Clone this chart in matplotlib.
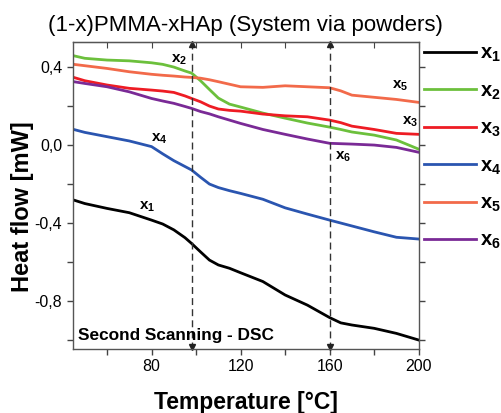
import numpy as np
import matplotlib.pyplot as plt

plt.rcParams['font.family'] = ['Liberation Sans', 'DejaVu Sans']
plt.rcParams['mathtext.fontset'] = 'custom'
plt.rcParams['mathtext.rm'] = 'Liberation Sans'
plt.rcParams['mathtext.bf'] = 'Liberation Sans:bold'

# Temperature grid (C)
temp = [45, 50, 60, 70, 80, 85, 90, 95, 98, 102, 106, 110, 115, 120,
        130, 140, 150, 160, 165, 170, 180, 190, 200]

# Heat flow (mW) for each composition
x1 = [-0.282, -0.300, -0.325, -0.347, -0.385, -0.405, -0.435, -0.475, -0.505, -0.548, -0.590, -0.615,
      -0.632, -0.655, -0.700, -0.769, -0.821, -0.885, -0.912, -0.923, -0.940, -0.966, -1.000]
x2 = [0.458, 0.445, 0.436, 0.432, 0.422, 0.414, 0.400, 0.380, 0.369, 0.330, 0.285, 0.241,
      0.210, 0.195, 0.164, 0.138, 0.113, 0.092, 0.080, 0.067, 0.051, 0.026, -0.021]
x3 = [0.347, 0.330, 0.308, 0.291, 0.282, 0.277, 0.270, 0.252, 0.239, 0.222, 0.200, 0.185,
      0.178, 0.174, 0.159, 0.150, 0.145, 0.128, 0.115, 0.097, 0.080, 0.060, 0.055]
x4 = [0.080, 0.065, 0.043, 0.021, -0.008, -0.045, -0.080, -0.110, -0.128, -0.165, -0.200, -0.218,
      -0.234, -0.248, -0.278, -0.322, -0.354, -0.385, -0.400, -0.415, -0.445, -0.473, -0.482]
x5 = [0.414, 0.407, 0.393, 0.376, 0.363, 0.358, 0.354, 0.349, 0.347, 0.343, 0.335, 0.325,
      0.312, 0.299, 0.296, 0.304, 0.299, 0.294, 0.278, 0.256, 0.245, 0.234, 0.219]
x6 = [0.325, 0.316, 0.299, 0.273, 0.239, 0.226, 0.214, 0.198, 0.188, 0.172, 0.160, 0.145,
      0.128, 0.111, 0.080, 0.055, 0.031, 0.009, 0.007, 0.005, 0.000, -0.012, -0.037]

series = [x1, x2, x3, x4, x5, x6]
colors = ['#000000', '#6cc03c', '#ee1c24', '#2a55b0', '#f26a4a', '#7a2a96']
names = [r'$\mathbf{x}_\mathbf{%d}$' % (i + 1) for i in range(6)]

# curve labels inside the plot
lab_t = [78, 92.5, 196, 83.5, 191.5, 166]
lab_h = [-0.315, 0.44, 0.12, 0.035, 0.305, -0.06]

arrow_t = [98, 160]

fig = plt.figure(figsize=(5.02, 4.13), dpi=100)
ax = fig.add_axes([0.145, 0.155, 0.689, 0.743])

for s, c, n in zip(series, colors, names):
    ax.plot(temp, s, color=c, lw=2, label=n)

ax.set_xlim(44.6, 200)
ax.set_ylim(-1.046, 0.528)

for t in arrow_t:
    ax.axvline(t, color='#333333', lw=1, ls=(0, (5, 3)))
    ax.plot([t], [0.528 - 0.012], marker='^', color='#222222', ms=4, clip_on=False)
    ax.plot([t], [-1.046 + 0.012], marker='v', color='#222222', ms=4, clip_on=False)

for n, t, h in zip(names, lab_t, lab_h):
    ax.text(t, h, n, fontsize=11, ha='center', va='center')

ax.text(47, -0.975, 'Second Scanning - DSC', fontsize=12.4, fontweight='bold',
        ha='left', va='center')

ax.set_xticks([80, 120, 160, 200])
ax.set_xticks([60, 100, 140, 180], minor=True)
ax.set_yticks([-0.8, -0.4, 0.0, 0.4])
ax.set_yticks([-1.0, -0.6, -0.2, 0.2], minor=True)
ax.set_yticklabels(['-0,8', '-0,4', '0,0', '0,4'])
ax.tick_params(which='both', direction='out', length=4, width=1, color='#444444',
               labelsize=11.5, right=True, top=False)
for sp in ax.spines.values():
    sp.set_color('#555555')
    sp.set_linewidth(1)

# top ticks point inwards
sec = ax.secondary_xaxis('top')
sec.set_xticks([60, 80, 100, 120, 140, 160, 180, 200])
sec.tick_params(direction='in', length=4, color='#444444')
sec.set_xticklabels([])

ax.set_xlabel('Temperature [°C]', fontsize=16.5, fontweight='bold', labelpad=12)
ax.set_ylabel('Heat flow [mW]', fontsize=17, fontweight='bold')
ax.yaxis.set_label_coords(-0.113, 0.4625)
ax.set_title('(1-x)PMMA-xHAp (System via powders)', fontsize=16, pad=8)

ax.legend(loc='upper left', bbox_to_anchor=(1.0, 1.01), frameon=False, fontsize=14.5,
          handlelength=2.6, handletextpad=0.2, labelspacing=0.85, borderaxespad=0.15,
          borderpad=0.1)

fig.savefig('out.png', dpi=100)
